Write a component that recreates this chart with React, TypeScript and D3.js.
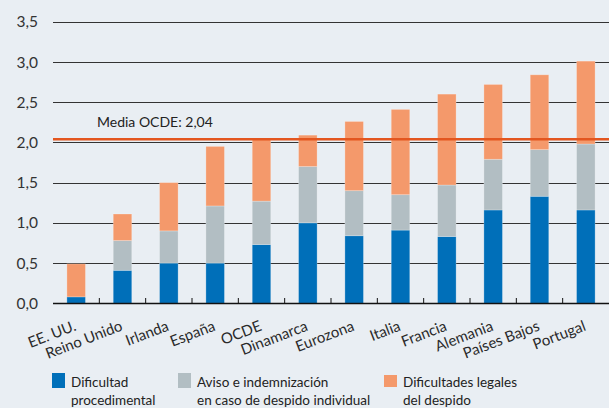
import React, { useEffect, useRef } from "react";
import * as d3 from "d3";

// data
const countries = ["EE. UU.", "Reino Unido", "Irlanda", "España", "OCDE", "Dinamarca", "Eurozona", "Italia", "Francia", "Alemania", "Países Bajos", "Portugal"];
const procedimental = [0.08, 0.41, 0.5, 0.5, 0.73, 1.0, 0.84, 0.91, 0.83, 1.16, 1.33, 1.16];
const aviso = [0.0, 0.37, 0.4, 0.71, 0.54, 0.7, 0.56, 0.44, 0.64, 0.63, 0.58, 0.82];
const legales = [0.41, 0.33, 0.6, 0.74, 0.77, 0.39, 0.86, 1.06, 1.13, 0.93, 0.93, 1.03];
const yTicks = [0, 0.5, 1.0, 1.5, 2.0, 2.5, 3.0, 3.5];
const mediaOCDE = 2.04;
const seriesNames = ["Dificultad\nprocedimental", "Aviso e indemnización\nen caso de despido individual", "Dificultades legales\ndel despido"];
const colors = ["#006fb9", "#b2bec3", "#f4996b"];

const W = 609, H = 408;
const FONT = "Lato, 'Open Sans', sans-serif";

export default function App() {
  const ref = useRef<SVGSVGElement>(null);

  useEffect(() => {
    document.body.style.margin = "0";
    const svg = d3.select(ref.current);
    svg.selectAll("*").remove();

    const margin = { top: 22, left: 53, right: 0, bottom: 105 };
    const x = d3.scaleBand().domain(countries).range([margin.left, W - margin.right]).paddingInner(0.6).paddingOuter(0.3);
    const y = d3.scaleLinear().domain([0, 3.5]).range([303.3, 21.7]);

    svg.append("rect").attr("width", W).attr("height", H).attr("fill", "#e9eef3");

    // gridlines
    svg.append("g").selectAll("line").data(yTicks.filter(t => t > 0)).join("line")
      .attr("x1", margin.left).attr("x2", W)
      .attr("y1", d => Math.round(y(d)) + 0.5).attr("y2", d => Math.round(y(d)) + 0.5)
      .attr("stroke", "#333").attr("stroke-width", 1.2);

    // y labels
    svg.append("g").selectAll("text").data(yTicks).join("text")
      .attr("x", 38).attr("y", d => y(d)).attr("dy", "0.36em")
      .attr("text-anchor", "end").attr("font-family", FONT).attr("font-size", 15.5).attr("fill", "#333")
      .text(d => d3.format(".1f")(d).replace(".", ","));

    // stacked bars
    const rows = countries.map((c, i) => ({ c, a: procedimental[i], b: aviso[i], l: legales[i] }));
    const stack = d3.stack<any>().keys(["a", "b", "l"])(rows);
    svg.append("g").selectAll("g").data(stack).join("g")
      .attr("fill", (d, i) => colors[i])
      .selectAll("rect").data(d => d).join("rect")
      .attr("x", d => x(d.data.c)!)
      .attr("width", x.bandwidth())
      .attr("y", d => y(d[1]))
      .attr("height", d => y(d[0]) - y(d[1]))
      .attr("stroke", "rgba(255,255,255,0.3)").attr("stroke-width", 0.8);

    // x axis
    svg.append("line").attr("x1", margin.left).attr("x2", W).attr("y1", 303.5).attr("y2", 303.5)
      .attr("stroke", "#111").attr("stroke-width", 1.5);
    const step = x.step();
    const start = x(countries[0])! - x.paddingOuter() * step;
    svg.append("g").selectAll("line").data(d3.range(1, countries.length)).join("line")
      .attr("x1", i => start + i * step).attr("x2", i => start + i * step)
      .attr("y1", 298).attr("y2", 303).attr("stroke", "#111").attr("stroke-width", 1);

    svg.append("g").selectAll("text").data(countries).join("text")
      .attr("transform", d => `translate(${x(d)! + x.bandwidth() / 2 + 1}, 330) rotate(-21)`)
      .attr("text-anchor", "end").attr("font-family", FONT).attr("font-size", 15).attr("fill", "#2a2a2a")
      .text(d => d);

    // media OCDE line
    svg.append("line").attr("x1", margin.left).attr("x2", W).attr("y1", y(mediaOCDE)).attr("y2", y(mediaOCDE))
      .attr("stroke", "#e3561f").attr("stroke-width", 2.5);
    svg.append("text").attr("x", 97).attr("y", 127).attr("font-family", FONT).attr("font-size", 14).attr("fill", "#222")
      .text("Media OCDE: 2,04");

    // legend
    const legX = [52, 178, 384];
    const leg = svg.append("g").selectAll("g").data(seriesNames).join("g")
      .attr("transform", (d, i) => `translate(${legX[i]}, 373)`);
    leg.append("rect").attr("width", 13).attr("y", (d, i) => (i === 2 ? 2 : 0)).attr("height", (d, i) => (i === 2 ? 12 : 15))
      .attr("fill", (d, i) => colors[i]);
    leg.append("text").attr("font-family", FONT).attr("font-size", 13.5).attr("fill", "#222")
      .selectAll("tspan").data(d => d.split("\n")).join("tspan")
      .attr("x", 19).attr("y", (d, i) => 14 + i * 17.5).text(d => d);
  }, []);

  return <svg ref={ref} width={W} height={H} style={{ display: "block" }} />;
}
